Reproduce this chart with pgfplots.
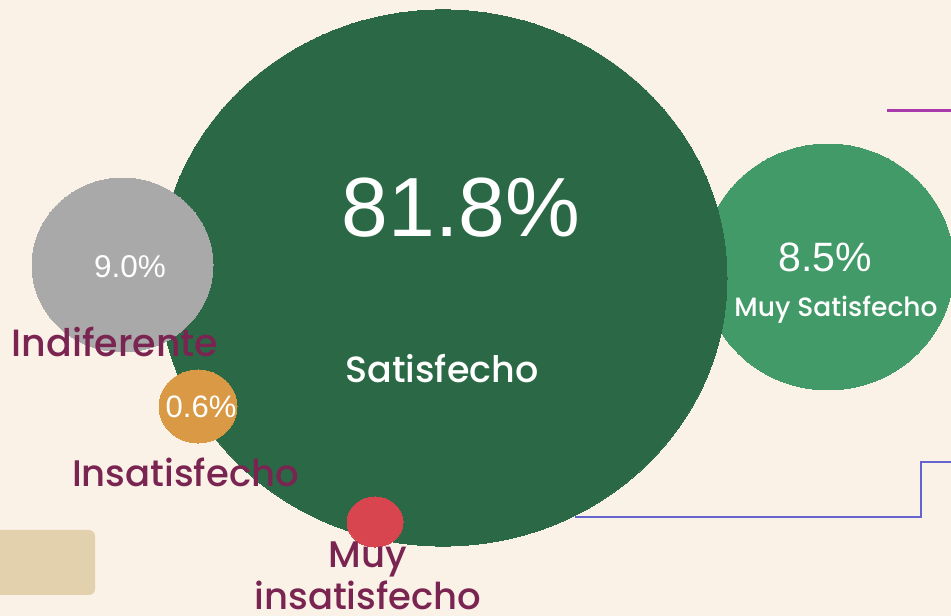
\documentclass[border=0pt]{standalone}
\usepackage{pgfplots}
\pgfplotsset{compat=1.18}
\usepackage{fontspec}
\setmainfont{Liberation Sans}
\newfontfamily\pop{Poppins Medium}
\definecolor{bg}{HTML}{FAF1E7}
\definecolor{dkgreen}{HTML}{2B6946}
\definecolor{ltgreen}{HTML}{419A68}
\definecolor{grayc}{HTML}{A9A9A9}
\definecolor{orangec}{HTML}{DA9A45}
\definecolor{redc}{HTML}{D8454F}
\definecolor{labc}{HTML}{7A2451}
\definecolor{beige}{HTML}{E3D0AC}
\definecolor{purp}{HTML}{A93AAC}
\definecolor{bluel}{HTML}{6563D0}
\begin{document}
\begin{tikzpicture}
\begin{axis}[x=1pt,y=1pt,xmin=0,xmax=951,ymin=0,ymax=616,scale only axis,set layers,
  axis line style={draw=none},ticks=none,axis background/.style={fill=bg},clip=true]
% decorations
\addplot[draw=none,fill=beige,rounded corners=6pt] coordinates {(-10,21) (95,21) (95,86) (-10,86)} --cycle;
\addplot[purp,line width=3pt] coordinates {(887,505.5) (960,505.5)};
\addplot[bluel,line width=2.5pt] coordinates {(575,99) (921,99) (921,154) (960,154)};
% bubbles
\addplot[ltgreen,only marks,mark=*,mark size=126pt,mark options={fill=ltgreen,draw=ltgreen,line width=0pt,yscale=0.976}] coordinates {(828,349)};
\addplot[dkgreen,only marks,mark=*,mark size=284pt,mark options={fill=dkgreen,draw=dkgreen,line width=0pt,yscale=0.944}] coordinates {(443,338)};
\addplot[grayc,only marks,mark=*,mark size=90.5pt,mark options={fill=grayc,draw=grayc,line width=0pt,yscale=0.961}] coordinates {(122.5,351)};
\addplot[orangec,only marks,mark=*,mark size=39pt,mark options={fill=orangec,draw=orangec,line width=0pt,yscale=0.936}] coordinates {(198,209.5)};
\addplot[redc,only marks,mark=*,mark size=28pt,mark options={fill=redc,draw=redc,line width=0pt,yscale=0.893}] coordinates {(375,94)};
% texts
\begin{pgfonlayer}{axis foreground}
\node[anchor=base,white,font=\fontsize{84}{84}\selectfont,inner sep=0pt] at (axis cs:461,379) {81.8\%};
\node[anchor=base,white,font=\pop\fontsize{36.5}{36.5}\selectfont,inner sep=0pt] at (axis cs:442,233) {Satisfecho};
\node[anchor=base,white,font=\fontsize{41}{41}\selectfont,inner sep=0pt] at (axis cs:825,344) {8.5\%};
\node[anchor=base,white,font=\pop\fontsize{26.5}{26.5}\selectfont,inner sep=0pt] at (axis cs:836,299) {Muy Satisfecho};
\node[anchor=base,white,font=\fontsize{31.5}{31.5}\selectfont,inner sep=0pt] at (axis cs:130,338) {9.0\%};
\node[anchor=base,white,font=\fontsize{31}{31}\selectfont,inner sep=0pt] at (axis cs:201,198) {0.6\%};
\node[anchor=base,labc,font=\pop\fontsize{38}{38}\selectfont,inner sep=0pt] at (axis cs:115,259) {Indiferente};
\node[anchor=base,labc,font=\pop\fontsize{37}{37}\selectfont,inner sep=0pt] at (axis cs:185.5,129) {Insatisfecho};
\node[anchor=base,labc,font=\pop\fontsize{37}{37}\selectfont,inner sep=0pt] at (axis cs:368,48) {Muy};
\node[anchor=base,labc,font=\pop\fontsize{37}{37}\selectfont,inner sep=0pt] at (axis cs:368,6) {insatisfecho};
\end{pgfonlayer}
\end{axis}
\pgfresetboundingbox
\path[use as bounding box] (current axis.south west) rectangle (current axis.north east);
\end{tikzpicture}
\end{document}
